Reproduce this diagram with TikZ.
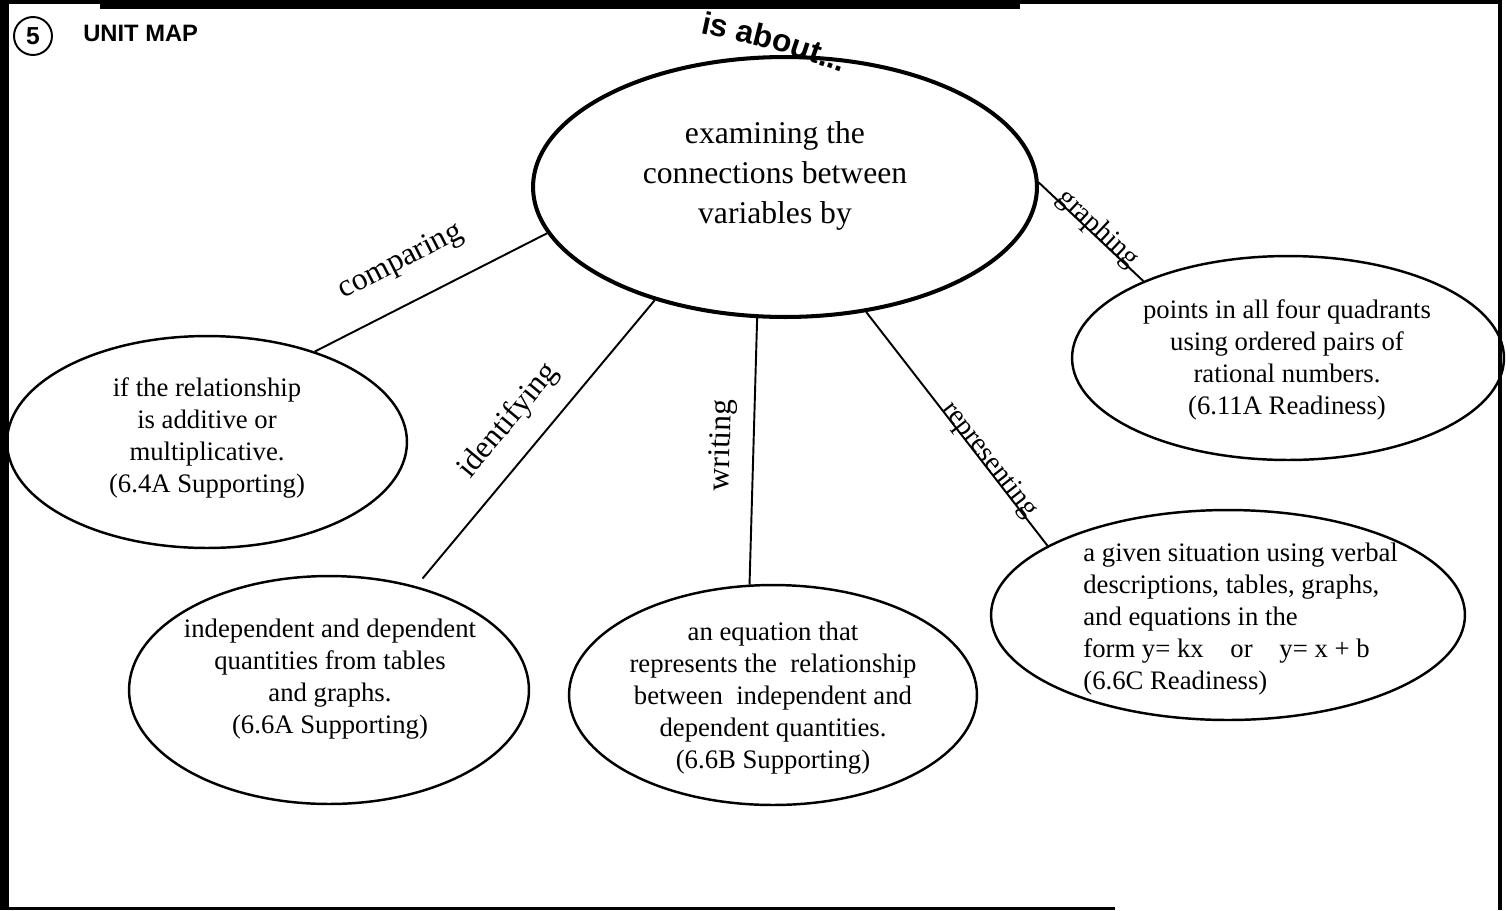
\documentclass[tikz,border=0pt]{standalone}
\usepackage{fontspec}
\setmainfont{Liberation Serif}
\setsansfont{Liberation Sans}
\usetikzlibrary{shapes.geometric,decorations.text}

\begin{document}
\begin{tikzpicture}[x=0.02cm,y=-0.02cm,
	bubble/.style={draw,ellipse,line width=1.4pt,inner sep=0pt},
	bubtext/.style={align=center,inner sep=0pt,font=\fontsize{15.2}{18.1}\selectfont},
	link/.style={draw,line width=1.1pt},
	verb/.style={sloped,inner sep=2pt,font=\fontsize{18}{21}\selectfont},
	smallverb/.style={sloped,inner sep=2pt,font=\fontsize{16}{19}\selectfont}]
	\useasboundingbox (0,0) rectangle (1506,910);
	\fill (0,0) rectangle (9,910);
	\fill (100,0) rectangle (1020,9);
	\draw[line width=2.2pt] (0,2) -- (1502,2);
	\draw[line width=2.8pt] (1500,0) -- (1500,910);
	\draw[line width=1.7pt] (0,908) -- (1115,908);
	\node[draw,circle,line width=1.1pt,minimum size=0.76cm,inner sep=0pt,font=\sffamily\bfseries\fontsize{14}{14}\selectfont] at (33,36) (num) {5};
	\node[anchor=west,inner sep=0pt,font=\sffamily\bfseries\fontsize{13.5}{14}\selectfont] at (83,33) (title) {UNIT MAP};
	\node[bubble,line width=2.3pt,minimum width=10.08cm,minimum height=5.2cm] at (785,187) (main) {};
	\node[bubtext,font=\fontsize{18}{22.8}\selectfont] at (775,176) (mainText) {examining\ the\\connections between\\variables\ by};
	\path[decorate,decoration={text along path,text align=left,text={|\sffamily\bfseries\fontsize{18}{20}\selectfont|is about...}}] (700,33) .. controls (775,49) .. (845,74);
	\node[bubble,minimum width=8cm,minimum height=4.24cm] at (207,442) (cmp) {};
	\node[bubtext] at (207,438) (cmpText) {if the relationship\\is additive or\\multiplicative.\\(6.4A Supporting)};
	\node[bubble,minimum width=8cm,minimum height=4.56cm] at (329,690) (ind) {};
	\node[bubtext] at (330,679) (indText) {independent and dependent\\quantities from tables\\and graphs.\\(6.6A Supporting)};
	\node[bubble,minimum width=8.16cm,minimum height=4.4cm] at (773,695) (eqn) {};
	\node[bubtext] at (773,698) (eqnText) {an equation that\\represents the\ \ relationship\\between\ \ independent and\\dependent quantities.\\(6.6B Supporting)};
	\node[bubble,minimum width=9.48cm,minimum height=4.2cm] at (1228,615) (giv) {};
	\node[bubtext,align=left,anchor=west] at (1083,619) (givText) {a given situation using verbal\\descriptions, tables, graphs,\\and equations in the\\form y= kx\ \ \ \ or\ \ \ \ y= x + b\\(6.6C Readiness)};
	\node[bubble,minimum width=8.64cm,minimum height=4.08cm] at (1288,358) (pts) {};
	\node[bubtext] at (1287,360) (ptsText) {points in all four quadrants\\using ordered pairs of\\rational numbers.\\(6.11A Readiness)};
	\path (main.191) edge[link] node[verb,above=13pt,pos=0.55] {comparing} (cmp.40)
	(main.221) edge[link,shorten >=0.2cm] node[verb,above=9pt,pos=0.5] {identifying} (ind.50)
	(main.258) edge[link] node[verb,above=7pt,pos=0.48] {writing} (eqn.102)
	(main.303) edge[link] node[smallverb,above=-6pt,pos=0.65] {representing} (giv.159)
	(main.1) edge[link] node[smallverb,above=-6pt,pos=0.52] {graphing} (pts.152);
\end{tikzpicture}
\end{document}
